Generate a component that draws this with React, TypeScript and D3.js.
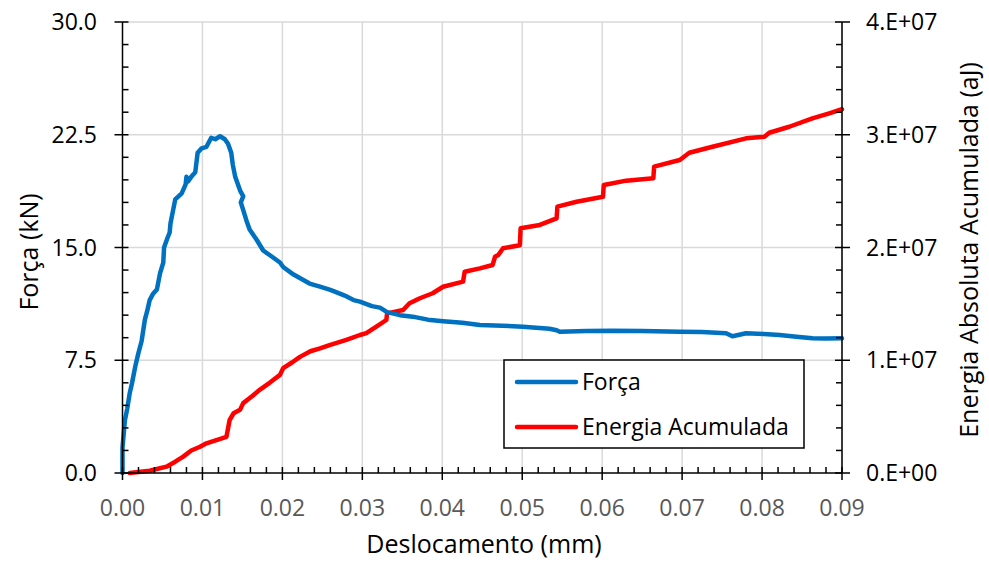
import React from "react";
import * as d3 from "d3";

// ---- Data ----
// Força (kN) vs Deslocamento (mm)
const forceX = [0, 0, 0.0003, 0.0006, 0.0009, 0.0012, 0.0016, 0.002, 0.0024, 0.0028, 0.0031, 0.0034, 0.0038, 0.0043, 0.0047, 0.0051, 0.0052, 0.0056, 0.0059, 0.006, 0.0063, 0.0066, 0.0070, 0.0074, 0.0079, 0.0080, 0.0082, 0.0086, 0.0091, 0.0094, 0.0099, 0.0105, 0.0111, 0.0116, 0.0122, 0.0128, 0.0132, 0.0136, 0.0138, 0.0141, 0.0147, 0.0151, 0.0148, 0.0155, 0.0159, 0.0168, 0.0176, 0.0184, 0.0197, 0.0201, 0.0214, 0.0224, 0.0234, 0.0247, 0.0259, 0.0264, 0.0278, 0.0289, 0.0297, 0.0312, 0.0322, 0.0331, 0.0347, 0.0363, 0.0382, 0.0401, 0.0425, 0.0447, 0.0475, 0.0501, 0.0534, 0.0543, 0.0547, 0.058, 0.0613, 0.065, 0.0697, 0.0725, 0.0755, 0.0763, 0.078, 0.0802, 0.0822, 0.0843, 0.0863, 0.088, 0.09];
const forceY = [0, 1.7, 3.5, 4.3, 5.3, 6.0, 7.1, 8.0, 8.8, 10.2, 10.8, 11.5, 11.9, 12.2, 13.3, 14.0, 15.0, 15.6, 16.0, 16.6, 17.4, 18.2, 18.4, 18.6, 19.2, 19.7, 19.4, 19.7, 20.0, 21.3, 21.6, 21.7, 22.3, 22.2, 22.4, 22.2, 21.9, 21.3, 20.5, 19.7, 18.8, 18.4, 18.0, 16.8, 16.2, 15.5, 14.8, 14.5, 14.0, 13.7, 13.2, 12.9, 12.6, 12.4, 12.2, 12.1, 11.8, 11.5, 11.4, 11.1, 11.0, 10.7, 10.5, 10.4, 10.2, 10.1, 10.0, 9.85, 9.8, 9.73, 9.6, 9.5, 9.4, 9.45, 9.47, 9.44, 9.4, 9.38, 9.3, 9.1, 9.3, 9.25, 9.18, 9.07, 8.96, 8.95, 8.96];

// Energia Acumulada (aJ) vs Deslocamento (mm)
const energyX = [0.0009, 0.0034, 0.0055, 0.0066, 0.0076, 0.0086, 0.0097, 0.0105, 0.013, 0.0134, 0.0139, 0.0147, 0.0151, 0.0162, 0.0172, 0.0184, 0.0197, 0.0201, 0.0212, 0.0222, 0.0235, 0.0247, 0.0259, 0.028, 0.0297, 0.0305, 0.0318, 0.033, 0.0331, 0.0351, 0.0359, 0.0372, 0.0388, 0.0401, 0.0426, 0.0428, 0.0447, 0.0463, 0.0466, 0.047, 0.0476, 0.0497, 0.0498, 0.0522, 0.0543, 0.0544, 0.0568, 0.0601, 0.0602, 0.063, 0.0664, 0.0665, 0.0697, 0.0709, 0.0738, 0.078, 0.0803, 0.0809, 0.0834, 0.0863, 0.0884, 0.09];
const energyY = [0, 0.02e7, 0.056e7, 0.1e7, 0.145e7, 0.2e7, 0.233e7, 0.263e7, 0.32e7, 0.47e7, 0.53e7, 0.56e7, 0.62e7, 0.68e7, 0.74e7, 0.8e7, 0.87e7, 0.93e7, 0.98e7, 1.03e7, 1.08e7, 1.106e7, 1.135e7, 1.18e7, 1.224e7, 1.24e7, 1.3e7, 1.357e7, 1.416e7, 1.446e7, 1.505e7, 1.55e7, 1.594e7, 1.652e7, 1.697e7, 1.785e7, 1.815e7, 1.845e7, 1.918e7, 1.933e7, 1.993e7, 2.02e7, 2.17e7, 2.2e7, 2.259e7, 2.362e7, 2.406e7, 2.45e7, 2.554e7, 2.593e7, 2.614e7, 2.717e7, 2.776e7, 2.84e7, 2.894e7, 2.968e7, 2.983e7, 3.018e7, 3.071e7, 3.146e7, 3.19e7, 3.226e7];

const xTicks = [0, 0.01, 0.02, 0.03, 0.04, 0.05, 0.06, 0.07, 0.08, 0.09];
const yLeftTicks = [0, 7.5, 15, 22.5, 30];
const yRightTicks = [0, 1e7, 2e7, 3e7, 4e7];
const xTickLabels = ["0.00", "0.01", "0.02", "0.03", "0.04", "0.05", "0.06", "0.07", "0.08", "0.09"];
const yLeftLabels = ["0.0", "7.5", "15.0", "22.5", "30.0"];
const yRightLabels = ["0.E+00", "1.E+07", "2.E+07", "3.E+07", "4.E+07"];
const seriesNames = ["Força", "Energia Acumulada"];

const W = 989, H = 568;
const L = 122.5, R = 842, T = 22, B = 473;
const FONT = "'Open Sans', 'Noto Sans', sans-serif";
const FS = 23;
const FT = 25;
const BLUE = "#0070C0", RED = "#FF0000";

export default function App() {
  const x = d3.scaleLinear().domain([0, 0.09]).range([L, R]);
  const yL = d3.scaleLinear().domain([0, 30]).range([B, T]);
  const yR = d3.scaleLinear().domain([0, 4e7]).range([B, T]);

  const forceLine = d3.line<number>().x((_, i) => x(forceX[i])).y((d) => yL(d));
  const energyLine = d3.line<number>().x((_, i) => x(energyX[i])).y((d) => yR(d));

  const xMinor = d3.range(0, 0.0901, 0.002).filter((v) => Math.abs(v / 0.01 - Math.round(v / 0.01)) > 1e-6);
  const yLMinor = d3.range(0, 30.01, 1.5).filter((v) => Math.abs(v / 7.5 - Math.round(v / 7.5)) > 1e-6);
  const yRMinor = d3.range(0, 4.01e7, 2e6).filter((v) => Math.abs(v / 1e7 - Math.round(v / 1e7)) > 1e-6);

  const axisStroke = { stroke: "#000", strokeWidth: 1.5 };

  return (
    <svg width={W} height={H} style={{ position: "absolute", left: 0, top: 0, background: "#fff" }} fontFamily={FONT}>
      <rect x={0} y={0} width={W} height={H} fill="#fff" />
      {/* grid */}
      {xTicks.slice(1).map((t) => (
        <line key={"gx" + t} x1={x(t)} x2={x(t)} y1={T} y2={B} stroke="#D9D9D9" strokeWidth={1.5} />
      ))}
      {yLeftTicks.slice(1).map((t) => (
        <line key={"gy" + t} x1={L} x2={R} y1={yL(t)} y2={yL(t)} stroke="#D9D9D9" strokeWidth={1.5} />
      ))}

      {/* series */}
      <path d={energyLine(energyY) || ""} fill="none" stroke={RED} strokeWidth={4.5} strokeLinejoin="round" strokeLinecap="round" />
      <path d={forceLine(forceY) || ""} fill="none" stroke={BLUE} strokeWidth={4.5} strokeLinejoin="round" strokeLinecap="round" />

      {/* axes */}
      <line x1={L} x2={L} y1={T} y2={B} {...axisStroke} />
      <line x1={R} x2={R} y1={T} y2={B} {...axisStroke} />
      <line x1={L} x2={R} y1={B} y2={B} {...axisStroke} />

      {/* left ticks */}
      {yLeftTicks.map((t) => (
        <line key={"lt" + t} x1={L - 8} x2={L + 6} y1={yL(t)} y2={yL(t)} {...axisStroke} />
      ))}
      {yLMinor.map((t) => (
        <line key={"lm" + t} x1={L} x2={L + 6} y1={yL(t)} y2={yL(t)} {...axisStroke} />
      ))}
      {/* right ticks */}
      {yRightTicks.map((t) => (
        <line key={"rt" + t} x1={R - 7} x2={R + 8} y1={yR(t)} y2={yR(t)} {...axisStroke} />
      ))}
      {yRMinor.map((t) => (
        <line key={"rm" + t} x1={R - 6} x2={R} y1={yR(t)} y2={yR(t)} {...axisStroke} />
      ))}
      {/* bottom ticks */}
      {xTicks.map((t) => (
        <line key={"bt" + t} x1={x(t)} x2={x(t)} y1={B - 6} y2={B + 7} {...axisStroke} />
      ))}
      {xMinor.map((t) => (
        <line key={"bm" + t} x1={x(t)} x2={x(t)} y1={B - 6} y2={B} {...axisStroke} />
      ))}

      {/* tick labels */}
      {yLeftTicks.map((t, i) => (
        <text key={"ll" + t} x={97} y={yL(t)} dy="0.35em" textAnchor="end" fontSize={FS} fill="#000">
          {yLeftLabels[i]}
        </text>
      ))}
      {yRightTicks.map((t, i) => (
        <text key={"rl" + t} x={866} y={yR(t)} dy="0.35em" textAnchor="start" fontSize={FS} fill="#000">
          {yRightLabels[i]}
        </text>
      ))}
      {xTicks.map((t, i) => (
        <text key={"xl" + t} x={x(t)} y={516} textAnchor="middle" fontSize={FS} fill="#595959">
          {xTickLabels[i]}
        </text>
      ))}

      {/* axis titles */}
      <text x={484} y={553} textAnchor="middle" fontSize={FT} fill="#000">Deslocamento (mm)</text>
      <text transform={`translate(38,252) rotate(-90)`} textAnchor="middle" fontSize={FT} fill="#000">Força (kN)</text>
      <text transform={`translate(978,250) rotate(-90)`} textAnchor="middle" fontSize={FT} fill="#000">Energia Absoluta Acumulada (aJ)</text>

      {/* legend */}
      <rect x={504} y={360} width={300} height={88} fill="#fff" stroke="#000" strokeWidth={1.5} />
      <line x1={517} x2={576} y1={382} y2={382} stroke={BLUE} strokeWidth={4.5} strokeLinecap="round" />
      <line x1={517} x2={576} y1={427} y2={427} stroke={RED} strokeWidth={4.5} strokeLinecap="round" />
      <text x={582} y={390} fontSize={FS} fill="#000">{seriesNames[0]}</text>
      <text x={582} y={435} fontSize={FS} fill="#000">{seriesNames[1]}</text>
    </svg>
  );
}
